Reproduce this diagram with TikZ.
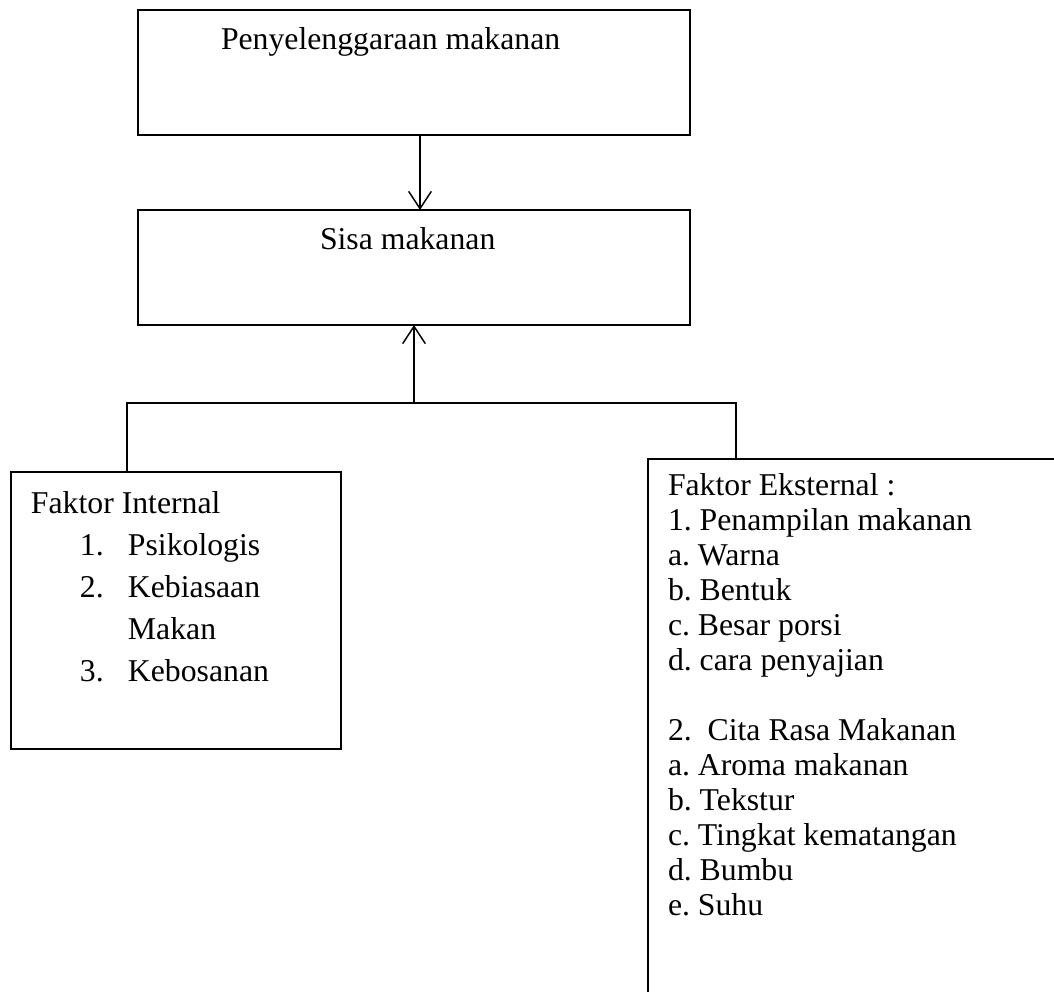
\documentclass[tikz,border=0pt]{standalone}
\usepackage{fontspec}
\setmainfont{Liberation Serif}
\usetikzlibrary{arrows.meta,calc}
\frenchspacing
\begin{document}
\begin{tikzpicture}[x=0.75pt,y=-0.75pt,
  box/.style={draw,line width=0.8pt,inner sep=0pt,outer sep=0pt,rectangle},
  conn/.style={line width=1.1pt},
  arr/.style={conn,-{Straight Barb[length=13pt,width=17pt,line width=1.1pt]}},
  lbl/.style={inner sep=0pt,outer sep=0pt,font=\fontsize{23.8}{26.25}\selectfont},
  lblwide/.style={inner sep=0pt,outer sep=0pt,font=\fontsize{23.8}{31.5}\selectfont}]
\useasboundingbox (0,0) rectangle (1054,992);
\fill[white] (0,0) rectangle (1054,992);
\clip (0,0) rectangle (1054,992);
% boxes
\node[box,minimum width=414pt,minimum height=93.75pt,anchor=north west] (top) at (138,10) {};
\node[box,minimum width=414pt,minimum height=86.25pt,anchor=north west] (sisa) at (138,210) {};
\node[box,minimum width=247.5pt,minimum height=207.75pt,anchor=north west] (int) at (11,472) {};
\node[box,minimum width=322.5pt,minimum height=420pt,anchor=north west] (ext) at (648,459) {};
% texts
\node[lbl,anchor=base west] (t1) at (221,49) {Penyelenggaraan makanan};
\node[lbl,anchor=base west] (t2) at (320,249) {Sisa makanan};
\node[lblwide,anchor=north west,align=left] (tint) at (31,491.5) {Faktor Internal\\
\hspace*{36.75pt}\makebox[36pt][l]{1.}Psikologis\\
\hspace*{36.75pt}\makebox[36pt][l]{2.}Kebiasaan\\
\hspace*{72.75pt}Makan\\
\hspace*{36.75pt}\makebox[36pt][l]{3.}Kebosanan};
\node[lbl,anchor=north west,align=left] (text) at (668,473.5) {Faktor Eksternal :\\
1. Penampilan makanan\\
a. Warna\\
b. Bentuk\\
c. Besar porsi\\
d. cara penyajian\\[26.25pt]
2.\ \ Cita Rasa Makanan\\
a. Aroma makanan\\
b. Tekstur\\
c. Tingkat kematangan\\
d. Bumbu\\
e. Suhu};
% connectors
\coordinate (j) at (414,403);
\coordinate (jl) at (127,403);
\coordinate (jr) at (736,403);
\draw[arr] ($(top.south)+(6,0)$) -- ($(sisa.north)+(6,0)$);
\draw[arr] (j) -- (sisa.south);
\draw[conn] (jl |- int.north) -- (jl) -- (jr) -- (jr |- ext.north);
\end{tikzpicture}
\end{document}
